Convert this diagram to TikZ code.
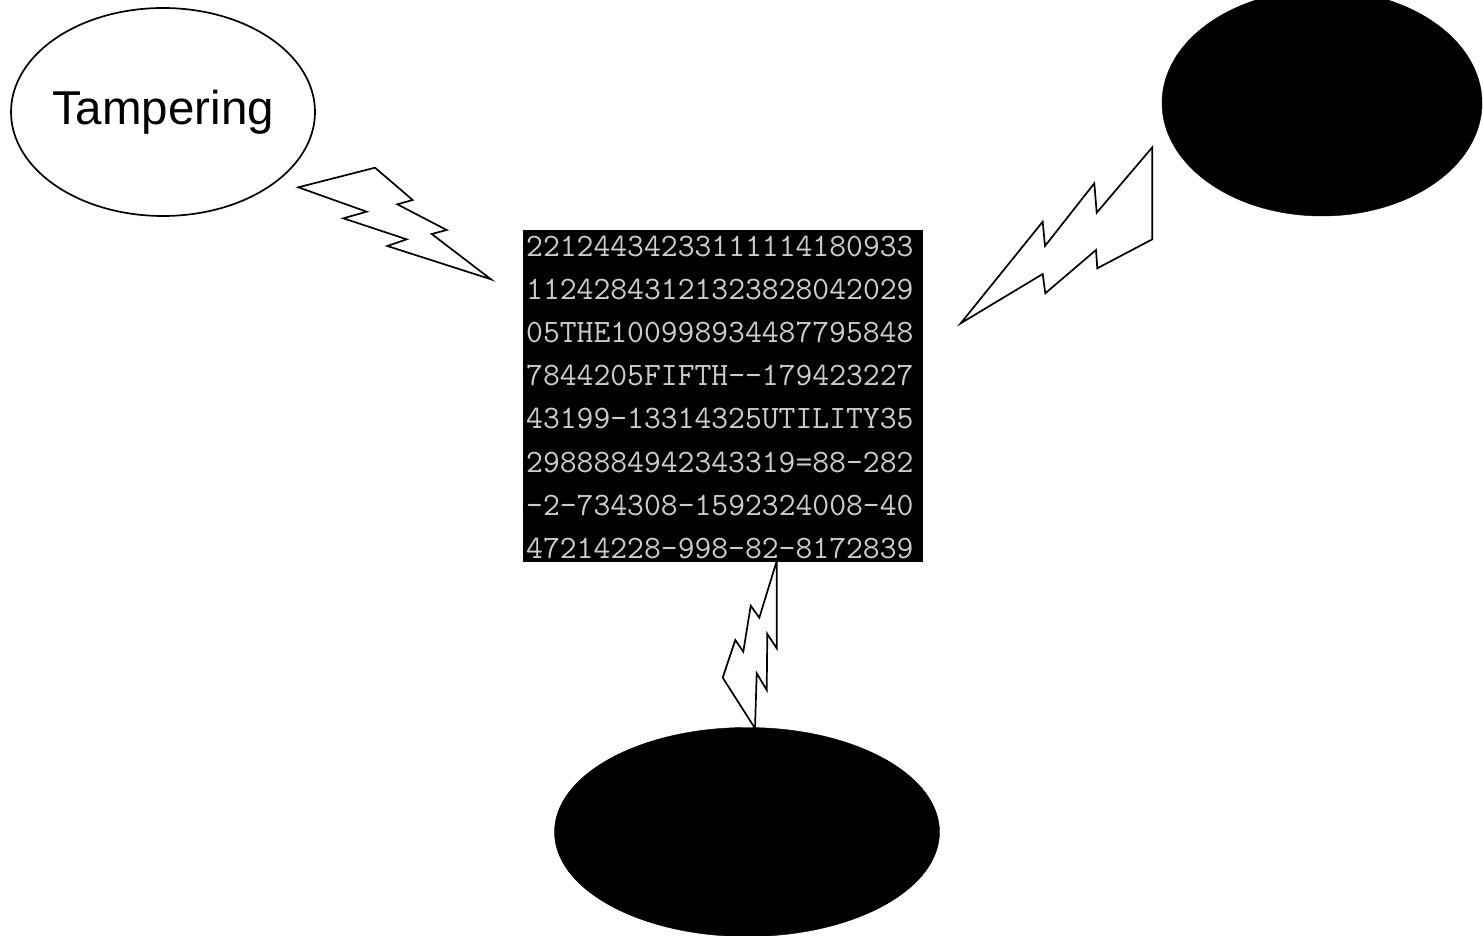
\documentclass[tikz,border=0pt]{standalone}
\usepackage{fontspec}
\setmainfont{Liberation Sans}
\usetikzlibrary{shapes.geometric}
\definecolor{glyph}{gray}{0.80}
\tikzset{
  bubble/.style={ellipse, draw=black, line width=1.7pt, inner sep=0pt},
  blackout/.style={ellipse, fill=black, draw=black, inner sep=0pt},
  bolt/.style={draw=black, fill=white, line width=1.7pt, line join=miter},
  codeline/.style={anchor=base west, inner sep=0pt, text=glyph,
    font=\ttfamily\fontsize{32.7}{32.7}\selectfont},
}
\begin{document}
\begin{tikzpicture}[x=1pt, y=-1pt]
  \useasboundingbox (0,0) rectangle (1483,936);
  \clip (0,0) rectangle (1483,936);

  % three surrounding ellipses
  \node[bubble, minimum width=304pt, minimum height=208pt] (tamper) at (163,112) {};
  \node[font=\fontsize{47.5}{50}\selectfont, inner sep=0pt] (tamperlabel)
        at (tamper.center) {Tampering};
  \node[blackout, minimum width=320pt, minimum height=226pt] (upper) at (1322,103) {};
  \node[blackout, minimum width=385pt, minimum height=209pt] (lower) at (747,832) {};

  % central code block
  \node[fill=black, minimum width=400pt, minimum height=332pt, inner sep=0pt,
        anchor=north west] (core) at (523,230) {};
  \foreach \txt [count=\i from 0] in {
      22124434233111114180933,
      11242843121323828042029,
      05THE100998934487795848,
      7844205FIFTH--179423227,
      43199-13314325UTILITY35,
      2988884942343319=88-282,
      -2-734308-1592324008-40,
      47214228-998-82-8172839}
    \node[codeline] (row\i) at (526, 256.5+43.1*\i) {\txt};

  % lightning bolts
  \draw[bolt] (298.3,187.3) -- (375,167.7) -- (412.7,200) -- (397.3,204.3)
    -- (446.7,230) -- (431.7,234) -- (491,279.3) -- (387.3,246)
    -- (406.7,239.3) -- (343.3,218.3) -- (366.7,211.7) -- cycle;

  \draw[bolt] (960.7,323.3) -- (1042.7,221.7) -- (1045,246) -- (1094.3,183.3)
    -- (1096.7,212.7) -- (1152.3,147.3) -- (1152.3,239.3) -- (1097.3,268.3)
    -- (1096,250) -- (1045.3,293.3) -- (1042.7,274) -- cycle;

  \draw[bolt] (776.7,561) -- (759.3,617.7) -- (750.7,605.7) -- (743.3,651.7)
    -- (735.3,640) -- (722.7,677.7) -- (755,728.3) -- (756.7,673.3)
    -- (766.7,690) -- (767.3,634) -- (776.7,648.3) -- cycle;
\end{tikzpicture}
\end{document}
